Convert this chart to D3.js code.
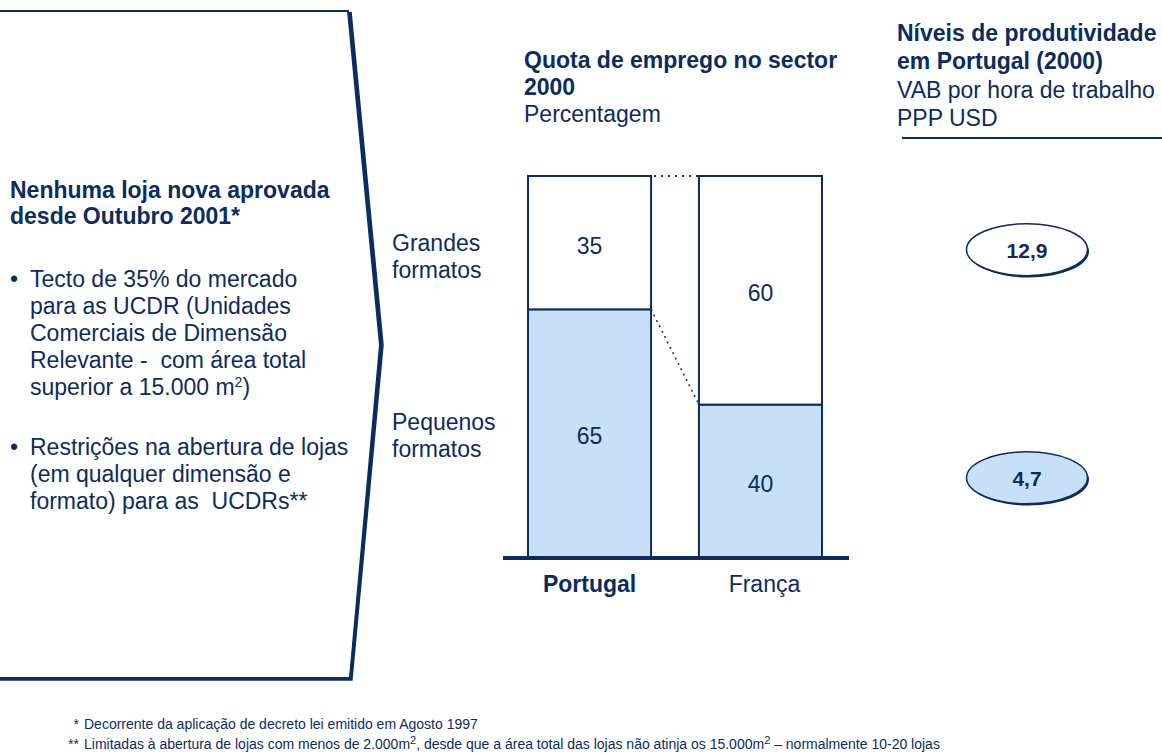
<!DOCTYPE html>
<html><head><meta charset="utf-8">
<script src="https://cdn.jsdelivr.net/npm/d3@7"></script>
<style>body{margin:0;background:#fff}svg{display:block;font-family:"Liberation Sans",Arial,sans-serif}</style>
</head><body><svg id="c" width="1162" height="754"></svg>
<script>
const categories = ["Portugal", "França"];
const segments = ["Pequenos formatos", "Grandes formatos"];
const pequenos = [65, 40];
const grandes = [35, 60];
const prodSegments = ["Grandes formatos", "Pequenos formatos"];
const productivity = [12.9, 4.7];
const prodLabels = ["12,9", "4,7"];

const navy = "#0b2c60", fillLight = "#c7e0f8";
const svg = d3.select("#c");
const FS = 23;

// left panel
const panel = d3.path();
panel.moveTo(-5, 11); panel.lineTo(348, 11); panel.lineTo(380, 345); panel.lineTo(350, 678); panel.lineTo(-5, 678);
svg.append("path").attr("d", "M350,12 L382,345 L351,679 L-5,679").attr("fill","none").attr("stroke",navy).attr("stroke-width",3.5);
svg.append("path").attr("d", panel.toString()).attr("fill","none").attr("stroke",navy).attr("stroke-width",2);

const lt = svg.append("g").attr("fill", navy).attr("font-size", FS);
lt.append("text").attr("x",10).attr("y",198).attr("font-weight","bold").text("Nenhuma loja nova aprovada");
lt.append("text").attr("x",10).attr("y",224).attr("font-weight","bold").text("desde Outubro 2001*");
const bl1 = ["Tecto de 35% do mercado","para as UCDR (Unidades","Comerciais de Dimensão","Relevante -  com área total"];
bl1.forEach((s,i)=>lt.append("text").attr("x",30).attr("y",287+i*27).attr("xml:space","preserve").text(s));
const sup = lt.append("text").attr("x",30).attr("y",395);
sup.append("tspan").text("superior a 15.000 m");
sup.append("tspan").attr("font-size",14).attr("dy",-8).text("2");
sup.append("tspan").attr("dy",8).text(")");
const bl2 = ["Restrições na abertura de lojas","(em qualquer dimensão e","formato) para as  UCDRs**"];
bl2.forEach((s,i)=>lt.append("text").attr("x",30).attr("y",455+i*27).attr("xml:space","preserve").text(s));
[287,455].forEach(y=>lt.append("text").attr("x",10).attr("y",y).text("•"));

// chart title
const ct = svg.append("g").attr("fill",navy).attr("font-size",FS);
ct.append("text").attr("x",524).attr("y",68).attr("font-weight","bold").text("Quota de emprego no sector");
ct.append("text").attr("x",524).attr("y",95).attr("font-weight","bold").text("2000");
ct.append("text").attr("x",524).attr("y",122).text("Percentagem");

// bars
const x = d3.scaleBand().domain(categories).range([528, 822]).paddingInner(0.28).paddingOuter(0);
const y = d3.scaleLinear().domain([0,100]).range([557, 176]);
const stackData = categories.map((c,i)=>({cat:c, "Pequenos formatos":pequenos[i], "Grandes formatos":grandes[i]}));
const series = d3.stack().keys(segments)(stackData);
const g = svg.append("g");
series.forEach((s,si)=>{
  s.forEach(d=>{
    g.append("rect").attr("x",x(d.data.cat)).attr("width",x.bandwidth())
      .attr("y",y(d[1])).attr("height",y(d[0])-y(d[1]))
      .attr("fill", si===0?fillLight:"#fff").attr("stroke",navy).attr("stroke-width",2);
    g.append("text").attr("x",x(d.data.cat)+x.bandwidth()/2).attr("y",(y(d[0])+y(d[1]))/2+11)
      .attr("text-anchor","middle").attr("font-size",FS).attr("fill",navy).text(d[1]-d[0]);
  });
});
// connectors
const x0 = x(categories[0])+x.bandwidth(), x1 = x(categories[1]);
g.append("line").attr("x1",x0+3).attr("x2",x1).attr("y1",y(100)).attr("y2",y(100)).attr("stroke",navy).attr("stroke-width",2).attr("stroke-dasharray","2,5");
g.append("line").attr("x1",x0).attr("x2",x1).attr("y1",y(pequenos[0])).attr("y2",y(pequenos[1])).attr("stroke",navy).attr("stroke-width",1.5).attr("stroke-dasharray","2,4");
// baseline
g.append("line").attr("x1",503).attr("x2",849).attr("y1",558).attr("y2",558).attr("stroke",navy).attr("stroke-width",4);
// category labels
categories.forEach((c,i)=>g.append("text").attr("x",x(c)+x.bandwidth()/2+(i?4:0)).attr("y",592).attr("text-anchor","middle")
  .attr("font-size",FS).attr("font-weight",i===0?"bold":"normal").attr("fill",navy).text(c));
// segment labels
const segY = {"Grandes formatos":[251,278], "Pequenos formatos":[430,457]};
Object.entries(segY).forEach(([k,ys])=>{
  k.split(" ").forEach((w,j)=>g.append("text").attr("x",392).attr("y",ys[j]).attr("font-size",FS).attr("fill",navy).text(w));
});

// right panel
const rt = svg.append("g").attr("fill",navy).attr("font-size",FS);
rt.append("text").attr("x",897).attr("y",41).attr("font-weight","bold").text("Níveis de produtividade");
rt.append("text").attr("x",897).attr("y",69).attr("font-weight","bold").text("em Portugal (2000)");
rt.append("text").attr("x",897).attr("y",98).text("VAB por hora de trabalho");
rt.append("text").attr("x",897).attr("y",126).text("PPP USD");
rt.append("line").attr("x1",902).attr("x2",1162).attr("y1",138).attr("y2",138).attr("stroke",navy).attr("stroke-width",2);

const ellY = {"Grandes formatos": (y(100)+y(pequenos[0]))/2+7, "Pequenos formatos": (y(pequenos[1])+y(0))/2-3};
productivity.forEach((v,i)=>{
  const cy = ellY[prodSegments[i]];
  rt.append("ellipse").attr("cx",1028.5).attr("cy",cy+1.8).attr("rx",60.5).attr("ry",26).attr("fill",navy);
  rt.append("ellipse").attr("cx",1027).attr("cy",cy).attr("rx",60.5).attr("ry",26)
    .attr("fill", i===1?fillLight:"#fff").attr("stroke",navy).attr("stroke-width",1.5);
  rt.append("text").attr("x",1027).attr("y",cy+8).attr("text-anchor","middle").attr("font-weight","bold").attr("font-size",21).text(prodLabels[i]);
});

// footnotes
const fn = svg.append("g").attr("fill",navy).attr("font-size",14);
fn.append("text").attr("x",79).attr("y",729).attr("text-anchor","end").text("*");
fn.append("text").attr("x",84).attr("y",729).text("Decorrente da aplicação de decreto lei emitido em Agosto 1997");
fn.append("text").attr("x",79).attr("y",749).attr("text-anchor","end").text("**");
const f2 = fn.append("text").attr("x",84).attr("y",749);
f2.append("tspan").text("Limitadas à abertura de lojas com menos de 2.000m");
f2.append("tspan").attr("font-size",11).attr("dy",-5).text("2");
f2.append("tspan").attr("dy",5).text(", desde que a área total das lojas não atinja os 15.000m");
f2.append("tspan").attr("font-size",11).attr("dy",-5).text("2");
f2.append("tspan").attr("dy",5).text(" – normalmente 10-20 lojas");
</script></body></html>
